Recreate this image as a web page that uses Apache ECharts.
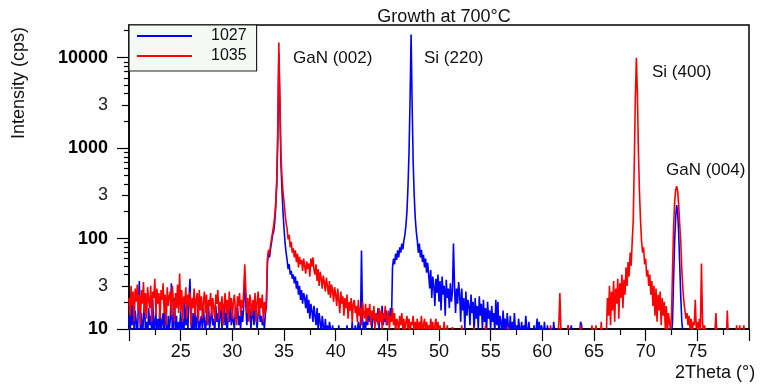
<!DOCTYPE html>
<html><head><meta charset="utf-8">
<script src="https://cdn.jsdelivr.net/npm/echarts@6/dist/echarts.min.js"></script>
<style>html,body{margin:0;padding:0;background:#fff}#c{width:761px;height:389px}</style>
</head><body><div id="c"></div>
<script>
// 2Theta grid (degrees)
const twoThetaStart = 20;
const twoThetaStep = 0.1;

// Sample 1027 (blue) intensity, cps, one row per degree from 20.0 to 80.0
const intensity1027 = [
14,8,19,11,24,9,16,12,7,18,
34,10,15,8,13,20,9,12,7,17,
11,14,9,21,8,12,16,7,13,10,
19,8,12,15,9,18,11,7,14,10,
13,32,8,11,22,9,14,7,12,10,
16,9,13,8,19,11,14,10,21,36,
12,8,15,10,18,9,13,16,8,12,
14,10,17,12,9,15,11,19,10,13,
16,11,13,9,18,12,15,10,14,17,
10,13,19,11,15,9,14,12,18,11,
15,12,10,17,13,19,11,14,10,16,
12,18,37,20,11,15,13,17,10,14,
16,11,19,13,10,15,18,12,14,11,
13,10,15,18,55,70,62,78,92,110,
120,150,220,400,1300,11000,3000,700,350,200,
130,90,70,58,46,52,40,44,36,40,
32,38,28,34,24,30,21,27,19,25,
22,17,24,15,21,13,19,16,12,18,
14,11,17,10,15,12,9,14,11,8,
13,9,11,8,12,10,7,11,9,8,
10,8,7,11,8,9,7,10,8,7,
9,11,8,7,10,8,12,7,9,11,
8,10,12,9,11,74,13,9,12,10,
14,11,17,12,15,10,13,16,11,14,
12,17,10,15,13,18,11,14,12,16,
11,15,13,17,12,48,60,52,68,58,
74,62,80,70,88,76,95,110,140,200,
380,900,3500,18000,3000,700,300,170,120,95,
70,88,62,75,55,66,48,60,42,54,
40,28,45,22,38,30,18,36,25,40,
20,34,16,38,24,30,14,35,22,28,
17,32,20,26,88,30,15,28,19,33,
24,12,28,16,22,10,26,14,21,18,
11,24,15,20,9,22,13,18,10,23,
14,19,10,21,12,17,9,20,13,16,
10,18,12,15,9,21,11,20,8,14,
12,9,16,10,13,8,15,11,9,14,
8,12,10,15,9,11,8,13,10,9,
12,8,11,9,14,10,8,12,9,7,
9,8,11,7,10,13,9,12,8,11,
10,8,12,9,7,11,8,9,7,10,
8,12,9,7,8,9,7,8,9,7,
8,7,9,8,7,11,8,9,11,7,
8,7,9,8,7,9,8,12,11,8,
7,9,8,7,8,9,7,8,9,7,
8,7,9,8,7,8,9,7,8,7,
9,8,7,8,9,7,8,7,9,8,
7,8,9,7,8,7,9,8,7,8,
8,9,7,8,7,9,8,7,8,9,
7,8,9,7,8,7,8,9,7,8,
8,7,9,8,7,8,9,7,8,7,
9,8,7,8,9,7,8,7,9,8,
7,8,9,7,8,9,12,35,90,170,
235,190,110,50,22,12,9,8,7,8,
7,8,9,7,8,7,9,8,7,8,
8,7,9,8,7,8,9,7,8,7,
9,8,7,8,9,7,8,7,9,8,
7,8,9,7,8,7,9,8,7,8,
8,9,7,8,7,9,8,7,8,9,
7,8,9,7,8,7,8,9,7,8,
8
];

// Sample 1035 (red) intensity, cps, one row per degree from 20.0 to 80.0
const intensity1035 = [
22,14,30,18,26,12,28,20,31,16,
24,11,27,19,33,15,25,13,29,21,
17,30,12,26,22,36,14,28,19,25,
13,27,21,32,15,24,11,29,18,23,
26,14,30,20,12,25,17,31,15,41,
16,27,12,23,19,29,13,24,18,26,
11,22,17,28,14,21,25,12,27,16,
23,13,20,26,15,24,11,21,18,25,
14,22,17,12,24,19,27,13,20,16,
23,11,18,25,15,21,12,26,17,22,
13,20,24,16,11,23,18,25,14,21,
17,26,52,28,15,22,12,24,19,14,
21,16,25,12,20,26,14,22,17,24,
12,20,15,22,60,75,68,85,100,118,
140,175,250,450,1600,14700,3500,900,480,330,
260,190,150,128,98,110,80,92,70,78,
62,74,55,68,48,63,52,58,44,60,
50,41,56,46,53,38,60,49,62,45,
40,52,34,46,30,43,36,28,39,33,
26,37,30,24,34,22,31,27,20,29,
24,18,28,21,15,26,19,23,14,22,
17,24,13,20,16,22,12,19,21,15,
18,12,21,14,17,11,20,15,13,19,
12,17,14,19,11,16,13,18,10,15,
14,11,17,12,16,10,15,13,18,11,
13,16,10,14,12,17,11,15,9,13,
12,9,14,11,15,10,13,9,12,14,
10,13,9,12,11,14,9,12,10,13,
9,12,10,14,9,11,13,9,12,10,
11,9,13,10,12,8,11,13,9,12,
9,11,8,10,9,12,8,9,11,8,
7,9,8,10.5,7,8,9,7,8,9,
8,7,11,8,7,9,8,7,9,8,
7,8,9,7,10.5,8,7,9,8,7,
8,9,7,8,7,11,8,7,9,8,
7,8,9,7,8,7,9,8,7,8,
9,7,8,7,9,8,7,10.5,8,7,
8,7,9,8,7,8,9,7,8,7,
7,8,7,9,8,7,8,7,9,8,
8,7,8,7,9,7,8,9,7,8,
7,9,8,7,8,7,9,8,11,7,
8,7,9,8,7,8,12,25,9,7,
8,7,9,8,7,11,8,7,9,8,
7,8,7,9,8,7,8,11,8,7,
9,8,7,8,7,9,8,7,11,8,
7,8,11,7,8,9,7,12,8,9,
8,7,9,22,14,30,11,26,16,34,
12,28,19,36,13,32,22,40,17,35,
24,48,30,55,38,70,50,95,160,700,
3500,10000,4000,900,330,160,95,70,80,52,
60,38,45,30,40,24,34,18,30,14,
28,12,24,16,26,11,22,14,20,10,
18,9,15,12,10,14,45,130,250,340,
380,330,230,140,90,45,28,20,16,13,
15,11,14,10,13,9,12,11,21,10,
12,9,13,10,53,12,9,11,8,10,
8,9,7,8,9,7,8,9,15,8,
7,8,9,7,8,7,9,8,7,16,
8,7,9,8,7,9,8,7,11,8,
7,11,8,7,9,11,8,7,9,8,
8
];

const seriesNames = ['1027', '1035'];
const yMajorTicks = [10, 100, 1000, 10000];
const yThreeTicks = [30, 300, 3000];
const yMinorTicks = [20, 40, 50, 60, 70, 80, 90, 200, 400, 500, 600, 700, 800, 900,
  2000, 4000, 5000, 6000, 7000, 8000, 9000, 20000];
const yTickLabels = [10, 30, 100, 300, 1000, 3000, 10000];
const peakNames = ['GaN (002)', 'Si (220)', 'Si (400)', 'GaN (004)'];

const FONT = '"Liberation Sans", Arial, sans-serif';

function toPairs(arr) {
  return arr.map((v, i) => [+(twoThetaStart + i * twoThetaStep).toFixed(1), v]);
}

function yAxisDef(ticks, len, main) {
  return {
    type: 'log', logBase: 10, min: 10, max: 23000, position: 'left',
    axisLine: { show: main, onZero: false, lineStyle: { color: '#000', width: 1.5 } },
    axisTick: { show: true, customValues: ticks, length: len, lineStyle: { color: '#000', width: 1.2 } },
    axisLabel: main ? {
      show: true, customValues: yTickLabels, margin: 21,
      fontFamily: FONT, color: '#000',
      formatter: function (v) {
        const lg = Math.round(Math.log10(v) * 1000) / 1000;
        if (Number.isInteger(lg)) return '{b|' + Math.round(v) + '}';
        return '{n|3}';
      },
      rich: {
        b: { fontFamily: FONT, fontSize: 18, fontWeight: 'bold', color: '#000' },
        n: { fontFamily: FONT, fontSize: 18, color: '#222' }
      }
    } : { show: false },
    splitLine: { show: false }
  };
}

const chart = echarts.init(document.getElementById('c'), null, { renderer: 'canvas' });
chart.setOption({
  animation: false,
  backgroundColor: '#fff',
  title: {
    text: 'Growth at 700°C', left: 439, top: 3, textAlign: 'center',
    textStyle: { fontFamily: FONT, fontSize: 18, fontWeight: 'normal', color: '#111' }
  },
  legend: {
    orient: 'vertical', left: 129, top: 25,
    padding: [3, 10, 7, 8], itemGap: 4, itemWidth: 55, itemHeight: 2, icon: 'rect',
    backgroundColor: '#f5f9f5', borderColor: '#222', borderWidth: 1.2, borderRadius: 0,
    textStyle: { fontFamily: FONT, fontSize: 16, color: '#111', padding: [0, 0, 0, 14], lineHeight: 16 },
    data: seriesNames
  },
  grid: { left: 129, right: 12, top: 25, bottom: 60, show: true, borderColor: '#000', borderWidth: 1.5, backgroundColor: 'transparent' },
  xAxis: {
    type: 'value', min: 20, max: 80, interval: 5,
    axisLine: { onZero: false, lineStyle: { color: '#000', width: 1.5 } },
    axisTick: { length: 12, lineStyle: { color: '#000', width: 1.2 } },
    minorTick: { show: true, splitNumber: 2, length: 6, lineStyle: { color: '#000', width: 1.2 } },
    axisLabel: {
      margin: 14, fontFamily: FONT, fontSize: 18, color: '#111',
      formatter: function (v) { return (v === 20 || v === 80) ? '' : String(v); }
    },
    splitLine: { show: false }
  },
  yAxis: [
    yAxisDef(yMajorTicks, 12, true),
    yAxisDef(yThreeTicks, 7, false),
    yAxisDef(yMinorTicks, 5, false)
  ],
  series: [
    { name: seriesNames[0], type: 'line', yAxisIndex: 0, data: toPairs(intensity1027), showSymbol: false, symbol: 'none',
      lineStyle: { color: '#0000ff', width: 1.6 }, itemStyle: { color: '#0000ff' }, sampling: null, clip: true },
    { name: seriesNames[1], type: 'line', yAxisIndex: 0, data: toPairs(intensity1035), showSymbol: false, symbol: 'none',
      lineStyle: { color: '#ff0000', width: 1.6 }, itemStyle: { color: '#ff0000' }, sampling: null, clip: true }
  ],
  graphic: [
    { type: 'text', x: 19, y: 83, rotation: Math.PI / 2,
      style: { text: 'Intensity (cps)', font: '18px ' + FONT, fill: '#111', align: 'center', verticalAlign: 'middle' } },
    { type: 'text', x: 675, y: 373,
      style: { text: '2Theta (°)', font: '18px ' + FONT, fill: '#111', align: 'left', verticalAlign: 'middle' } },
    { type: 'text', x: 293, y: 58,
      style: { text: peakNames[0], font: '17px ' + FONT, fill: '#111', verticalAlign: 'middle' } },
    { type: 'text', x: 424, y: 58,
      style: { text: peakNames[1], font: '17px ' + FONT, fill: '#111', verticalAlign: 'middle' } },
    { type: 'text', x: 652, y: 72,
      style: { text: peakNames[2], font: '17px ' + FONT, fill: '#111', verticalAlign: 'middle' } },
    { type: 'text', x: 666, y: 170,
      style: { text: peakNames[3], font: '17px ' + FONT, fill: '#111', verticalAlign: 'middle' } }
  ]
});
</script>
</body></html>
